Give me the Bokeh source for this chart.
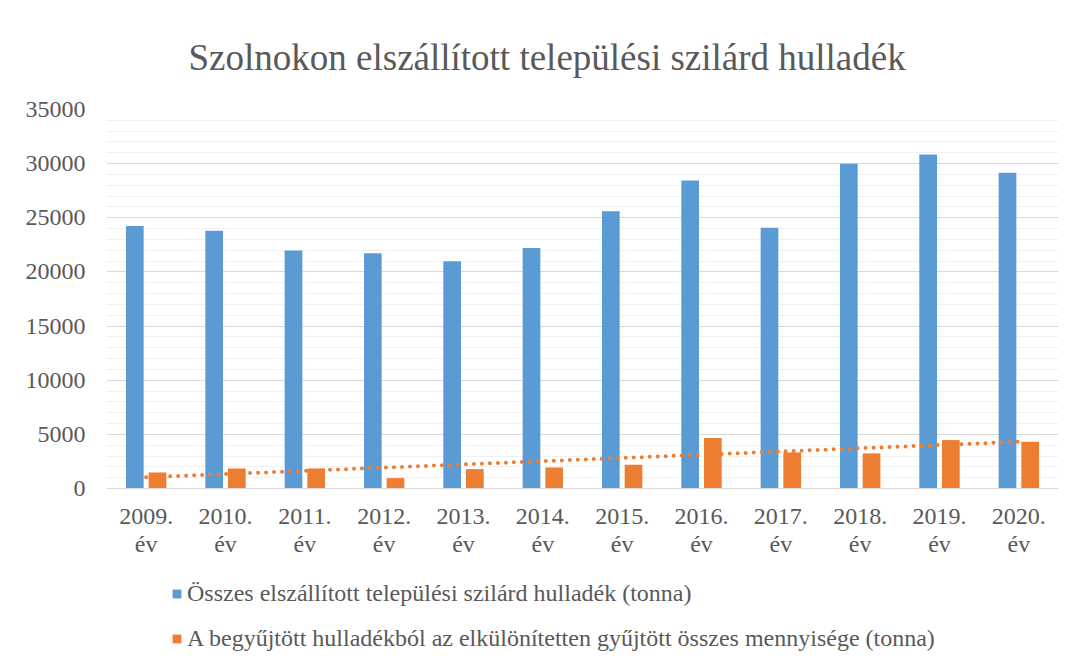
import numpy as np
from bokeh.plotting import figure
from bokeh.models import (FactorRange, Range1d, FixedTicker, Legend, LegendItem,
                          ColumnDataSource, Title)
from bokeh.transform import dodge
from bokeh.embed import file_html
from bokeh.resources import INLINE

years = ["2009.\név", "2010.\név", "2011.\név", "2012.\név", "2013.\név", "2014.\név",
         "2015.\név", "2016.\név", "2017.\név", "2018.\név", "2019.\név", "2020.\név"]
total = [24250, 23800, 21970, 21720, 20980, 22220, 25600, 28440, 24070, 29980, 30840, 29150]
separate = [1480, 1850, 1850, 960, 1790, 1940, 2190, 4660, 3330, 3240, 4470, 4320]
series_names = ["Összes elszállított települési szilárd hulladék (tonna)",
                "A begyűjtött hulladékból az elkülönítetten gyűjtött összes mennyisége (tonna)"]
title_text = "Szolnokon elszállított települési szilárd hulladék"
y_major = [0, 5000, 10000, 15000, 20000, 25000, 30000, 35000]
y_minor = [v for v in range(1000, 35000, 1000) if v % 5000 != 0]

BLUE = "#5B9BD5"
ORANGE = "#ED7D31"
TXT = "#595959"
FONT = "Liberation Serif"

# layout in pixels
W, H = 1067, 656
LEFT, RIGHT, TOP = 106, 9, 109
PLOT_PX = 379            # pixels from 0 to 35000
BELOW_PX = H - TOP - PLOT_PX   # extra frame area under the zero line (for labels/legend)
y_start = -35000 * BELOW_PX / PLOT_PX

# linear trendline of the separately collected amounts (Excel-like)
idx = np.arange(len(separate))
k, b = np.polyfit(idx, separate, 1)
trend = list(k * idx + b)

src = ColumnDataSource(dict(year=years, total=total, separate=separate, trend=trend))

p = figure(width=W, height=H, x_range=FactorRange(*years), y_range=Range1d(y_start, 35000),
           output_backend="svg", toolbar_location=None, title=None,
           min_border_left=LEFT, min_border_right=RIGHT, min_border_top=TOP, min_border_bottom=0)
p.outline_line_color = None
p.background_fill_color = "white"
p.border_fill_color = "white"

# grid
p.xgrid.grid_line_color = None
p.ygrid.ticker = FixedTicker(ticks=y_major, minor_ticks=y_minor)
p.ygrid.grid_line_color = "#D9D9D9"
p.ygrid.grid_line_width = 1
p.ygrid.minor_grid_line_color = "#F0F0F0"
p.ygrid.minor_grid_line_width = 1

r1 = p.vbar(x=dodge("year", -0.143, range=p.x_range), top="total", width=0.223, source=src,
            fill_color=BLUE, line_color=None)
r2 = p.vbar(x=dodge("year", 0.143, range=p.x_range), top="separate", width=0.223, source=src,
            fill_color=ORANGE, line_color=None)
p.line(x="year", y="trend", source=src, line_color=ORANGE, line_width=4,
       line_dash="0 8", line_cap="round")

# axes
p.yaxis.ticker = FixedTicker(ticks=y_major)
p.yaxis.axis_line_color = None
p.yaxis.major_tick_line_color = None
p.yaxis.minor_tick_line_color = None
p.yaxis.major_tick_out = 0
p.yaxis.major_label_standoff = 21
p.yaxis.major_label_text_font = FONT
p.yaxis.major_label_text_font_size = "24px"
p.yaxis.major_label_text_color = TXT

p.xaxis.fixed_location = 0
p.xaxis.axis_line_color = "#D9D9D9"
p.xaxis.axis_line_width = 1
p.xaxis.major_tick_line_color = None
p.xaxis.minor_tick_line_color = None
p.xaxis.major_tick_out = 0
p.xaxis.major_label_standoff = 14
p.xaxis.major_label_text_font = FONT
p.xaxis.major_label_text_font_size = "24px"
p.xaxis.major_label_text_line_height = 1.1
p.xaxis.major_label_text_color = TXT
p.xaxis.major_label_orientation = "horizontal"

# title
t = Title(text=title_text, align="left", text_font=FONT, text_font_size="37px",
          text_color=TXT, text_font_style="normal", offset=82, standoff=63)
p.add_layout(t, "above")

# legend (inside the extended frame, below the axis)
legend = Legend(items=[LegendItem(label=series_names[0], renderers=[r1]),
                       LegendItem(label=series_names[1], renderers=[r2])],
                location=(65, 4), orientation="vertical",
                glyph_width=11, glyph_height=11, label_height=24, label_standoff=5,
                spacing=18, padding=0, margin=0, border_line_color=None,
                background_fill_alpha=0)
legend.label_text_font = FONT
legend.label_text_font_size = "24px"
legend.label_text_color = TXT
legend.label_text_font_style = "normal"
p.add_layout(legend, "center")

open("out.html", "w").write(file_html(p, INLINE))
